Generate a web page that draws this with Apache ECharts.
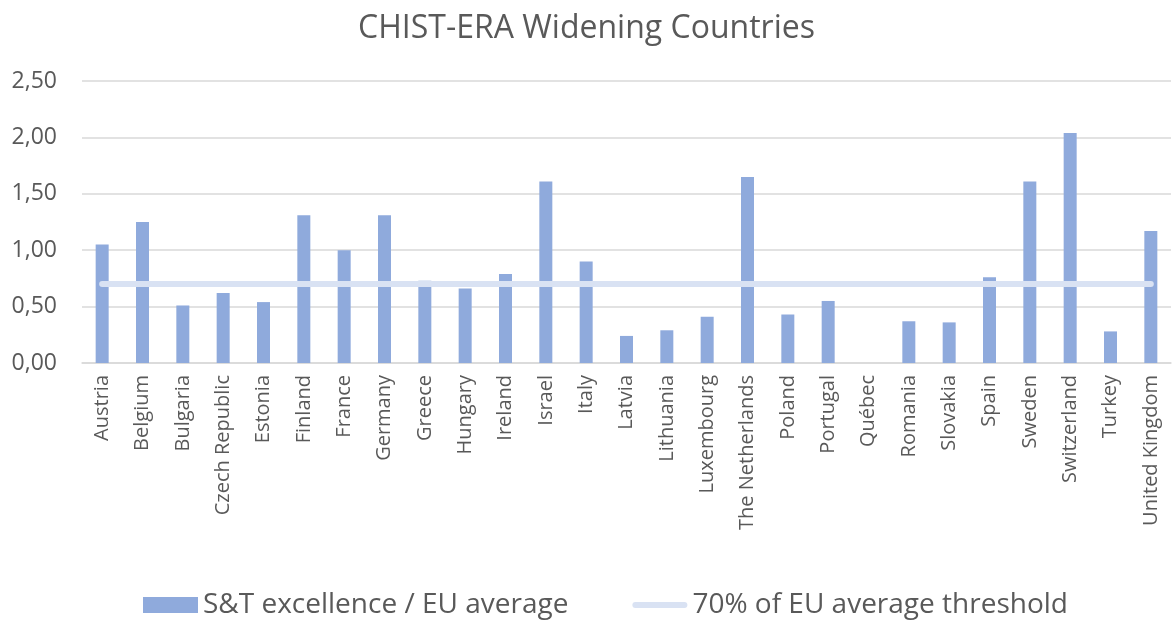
<!DOCTYPE html>
<html>
<head>
<meta charset="utf-8">
<script src="https://cdn.jsdelivr.net/npm/echarts@6/dist/echarts.min.js"></script>
<style>
  html, body { margin: 0; padding: 0; background: #fff; }
  #chart { width: 1173px; height: 621px; }
</style>
</head>
<body>
<div id="chart"></div>
<script>
  var countries = ['Austria', 'Belgium', 'Bulgaria', 'Czech Republic', 'Estonia', 'Finland', 'France',
    'Germany', 'Greece', 'Hungary', 'Ireland', 'Israel', 'Italy', 'Latvia', 'Lithuania', 'Luxembourg',
    'The Netherlands', 'Poland', 'Portugal', 'Québec', 'Romania', 'Slovakia', 'Spain', 'Sweden',
    'Switzerland', 'Turkey', 'United Kingdom'];
  var excellence = [1.05, 1.25, 0.51, 0.62, 0.54, 1.31, 1.00, 1.31, 0.73, 0.66, 0.79, 1.61, 0.90, 0.24,
    0.29, 0.41, 1.65, 0.43, 0.55, 0, 0.37, 0.36, 0.76, 1.61, 2.04, 0.28, 1.17];
  var threshold = [0.7, 0.7, 0.7, 0.7, 0.7, 0.7, 0.7, 0.7, 0.7, 0.7, 0.7, 0.7, 0.7, 0.7,
    0.7, 0.7, 0.7, 0.7, 0.7, 0.7, 0.7, 0.7, 0.7, 0.7, 0.7, 0.7, 0.7];
  var seriesNames = ['S&T excellence / EU average', '70% of EU average threshold'];

  var font = '"Open Sans", "Noto Sans", sans-serif';
  var txt = '#595959';

  var myChart = echarts.init(document.getElementById('chart'));
  var option = {
    title: {
      text: 'CHIST-ERA Widening Countries',
      left: 'center',
      top: 8,
      textStyle: { fontFamily: font, fontSize: 32, fontWeight: 'normal', color: txt }
    },
    legend: {
      data: [
        { name: seriesNames[0], icon: 'rect' },
        { name: seriesNames[1], icon: 'path://M3,0 L52,0 A3,3 0 0 1 52,6 L3,6 A3,3 0 0 1 3,0 Z' }
      ],
      top: 586,
      left: 138,
      itemWidth: 55,
      itemHeight: 16,
      itemGap: 64,
      textStyle: { fontFamily: font, fontSize: 28, color: txt }
    },
    grid: { left: 82, right: 2, top: 81, bottom: 258 },
    xAxis: {
      type: 'category',
      data: countries,
      axisLine: { lineStyle: { color: '#D9D9D9', width: 1.5 } },
      axisTick: { show: false },
      axisLabel: { interval: 0, rotate: 90, margin: 12, fontFamily: font, fontSize: 20, color: txt }
    },
    yAxis: {
      type: 'value',
      min: 0,
      max: 2.5,
      interval: 0.5,
      axisLine: { show: false },
      axisTick: { show: false },
      splitLine: { lineStyle: { color: '#D9D9D9', width: 1.5 } },
      axisLabel: {
        margin: 25, fontFamily: font, fontSize: 23, color: txt,
        formatter: function (v) { return v.toFixed(2).replace('.', ','); }
      }
    },
    series: [
      {
        name: seriesNames[0],
        type: 'bar',
        data: excellence,
        barWidth: 13,
        itemStyle: { color: '#8FAADC' }
      },
      {
        name: seriesNames[1],
        type: 'line',
        data: threshold,
        symbol: 'none',
        lineStyle: { color: '#D9E2F3', width: 6, cap: 'round' },
        itemStyle: { color: '#D9E2F3' }
      }
    ]
  };
  myChart.setOption(option);
</script>
</body>
</html>
